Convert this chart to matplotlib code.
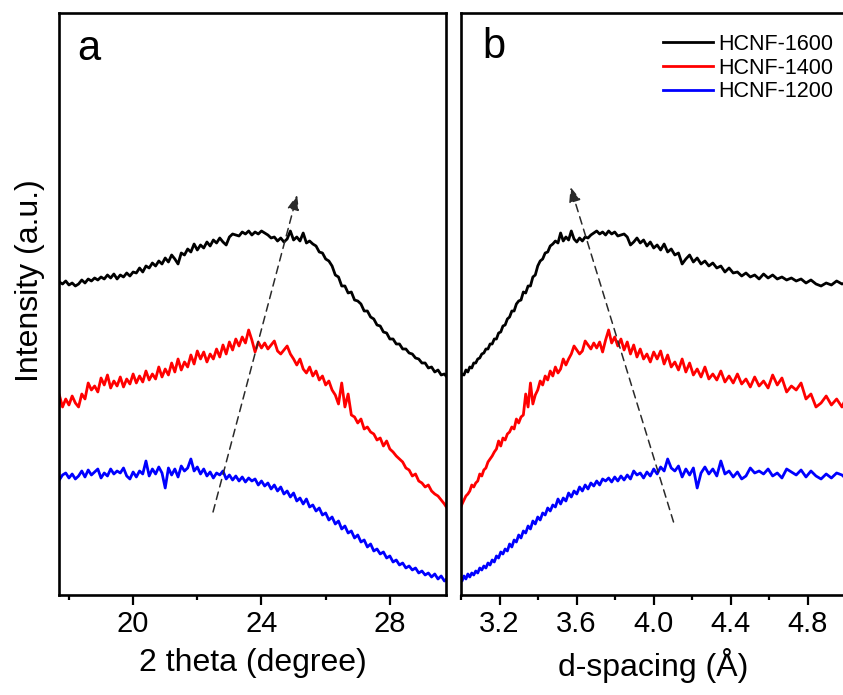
import numpy as np
import matplotlib
matplotlib.use("Agg")
import matplotlib.pyplot as plt
from matplotlib.ticker import MultipleLocator, FormatStrFormatter

plt.rcParams['font.family'] = ['Liberation Sans', 'DejaVu Sans']

# XRD patterns, 2 theta from 17.7 to 29.8 deg in 0.1 deg steps (intensity in a.u., offset)
two_theta_start = 17.7
two_theta_step = 0.1

hcnf_1600 = [313, 311, 314, 310, 312, 309, 311, 315, 312, 316, 314, 317, 315, 318, 316, 320,
             317, 321, 316, 320, 318, 322, 319, 323, 322, 327, 323, 329, 327, 332, 329, 334,
             331, 337, 333, 340, 336, 331, 342, 340, 346, 343, 351, 345, 350, 347, 353, 349,
             355, 352, 357, 353, 350, 358, 361, 360, 359, 363, 361, 364, 360, 363, 361, 364,
             362, 360, 357, 358, 354, 357, 353, 356, 364, 355, 358, 354, 362, 352, 354, 351,
             349, 343, 342, 336, 334, 329, 320, 318, 309, 309, 302, 303, 295, 294, 291, 284,
             284, 278, 276, 270, 269, 263, 262, 256, 256, 251, 251, 246, 246, 242, 241, 237,
             236, 232, 232, 227, 228, 223, 225, 220, 221, 217]

hcnf_1400 = [200, 188, 196, 190, 199, 192, 188, 201, 196, 212, 205, 209, 203, 217, 210, 220,
             207, 214, 209, 218, 208, 216, 211, 221, 212, 219, 213, 224, 215, 221, 216, 228,
             218, 226, 220, 232, 223, 236, 225, 233, 228, 240, 231, 244, 236, 243, 233, 241,
             236, 246, 238, 250, 241, 253, 245, 256, 249, 258, 252, 265, 255, 243, 253, 247,
             252, 246, 250, 254, 244, 241, 245, 249, 241, 236, 230, 236, 226, 222, 228, 219,
             224, 215, 219, 210, 214, 205, 200, 191, 212, 188, 201, 180, 178, 172, 176, 166,
             168, 163, 161, 155, 157, 149, 154, 146, 143, 139, 136, 133, 127, 125, 119, 121,
             114, 112, 108, 110, 104, 101, 99, 95, 91, 86]

hcnf_1200 = [115, 120, 122, 117, 121, 116, 119, 124, 118, 125, 120, 123, 126, 117, 122, 119,
             126, 121, 124, 122, 127, 119, 116, 123, 118, 124, 121, 134, 119, 126, 121, 128,
             122, 107, 127, 120, 126, 118, 129, 124, 127, 136, 124, 128, 121, 126, 119, 123,
             117, 122, 120, 124, 116, 120, 115, 119, 114, 118, 113, 117, 114, 116, 110, 114,
             109, 112, 106, 110, 104, 108, 101, 104, 98, 102, 94, 97, 91, 96, 88, 90,
             84, 87, 80, 82, 75, 78, 71, 74, 66, 69, 62, 64, 57, 60, 53, 55,
             48, 51, 44, 46, 41, 43, 37, 39, 33, 35, 30, 32, 27, 29, 25, 27,
             22, 24, 20, 22, 18, 21, 16, 19, 14, 17]

labels = ["HCNF-1600", "HCNF-1400", "HCNF-1200"]
colors = ["#000000", "#ff0000", "#0000ff"]
wavelength = 1.5406  # Cu K-alpha, angstrom

two_theta = two_theta_start + two_theta_step * np.arange(len(hcnf_1600))
d_spacing = wavelength / (2 * np.sin(np.radians(two_theta / 2)))
series = [hcnf_1600, hcnf_1400, hcnf_1200]

fig = plt.figure(figsize=(8.43, 6.95), dpi=100)
ax1 = fig.add_axes([59 / 843, 0.1439, 387 / 843, 0.8374])
ax2 = fig.add_axes([461 / 843, 0.1439, 385 / 843, 0.8374])

for y, c, lab in zip(series, colors, labels):
    ax1.plot(two_theta, y, color=c, lw=2.0)
    ax2.plot(d_spacing, y, color=c, lw=2.0, label=lab)

arrow_kw = dict(arrowstyle='-|>,head_length=0.45,head_width=0.18', linestyle=(0, (5, 3.5)),
                color='#2a2a2a', lw=1.1, mutation_scale=20, shrinkA=0, shrinkB=0)
ax1.annotate("", xy=(25.11, 400), xytext=(22.49, 83), arrowprops=arrow_kw)
ax2.annotate("", xy=(3.569, 408), xytext=(4.104, 73), arrowprops=arrow_kw)

ax1.set_xlim(17.69, 29.75)
ax2.set_xlim(3.0, 5.0)
ax1.xaxis.set_major_locator(MultipleLocator(4))
ax1.xaxis.set_minor_locator(MultipleLocator(2))
ax2.xaxis.set_major_locator(MultipleLocator(0.4))
ax2.xaxis.set_minor_locator(MultipleLocator(0.2))
ax2.xaxis.set_major_formatter(FormatStrFormatter('%.1f'))

for ax in (ax1, ax2):
    ax.set_ylim(0, 582)
    ax.set_yticks([])
    for s in ax.spines.values():
        s.set_linewidth(1.9)
    ax.tick_params(axis='x', which='major', direction='out', length=7, width=1.6,
                   labelsize=21, pad=4)
    ax.tick_params(axis='x', which='minor', direction='out', length=3.5, width=1.6)

ax1.set_xlabel("2 theta (degree)", fontsize=23, labelpad=7)
ax2.set_xlabel("d-spacing (Å)", fontsize=23, labelpad=7)
fig.text(30 / 843, 1 - 281 / 695, "Intensity (a.u.)", rotation=90, fontsize=23,
         ha='center', va='center')

ax1.text(0.047, 0.92, "a", transform=ax1.transAxes, fontsize=30, ha='left', va='baseline')
ax2.text(0.055, 0.923, "b", transform=ax2.transAxes, fontsize=30, ha='left', va='baseline')

ax2.legend(loc='upper left', bbox_to_anchor=(663 / 843, 1 - 34 / 695),
           bbox_transform=fig.transFigure, frameon=False, fontsize=15.5,
           borderpad=0, borderaxespad=0, handlelength=2.33, handletextpad=0.25,
           labelspacing=0.12)

fig.savefig("out.png", dpi=100)
